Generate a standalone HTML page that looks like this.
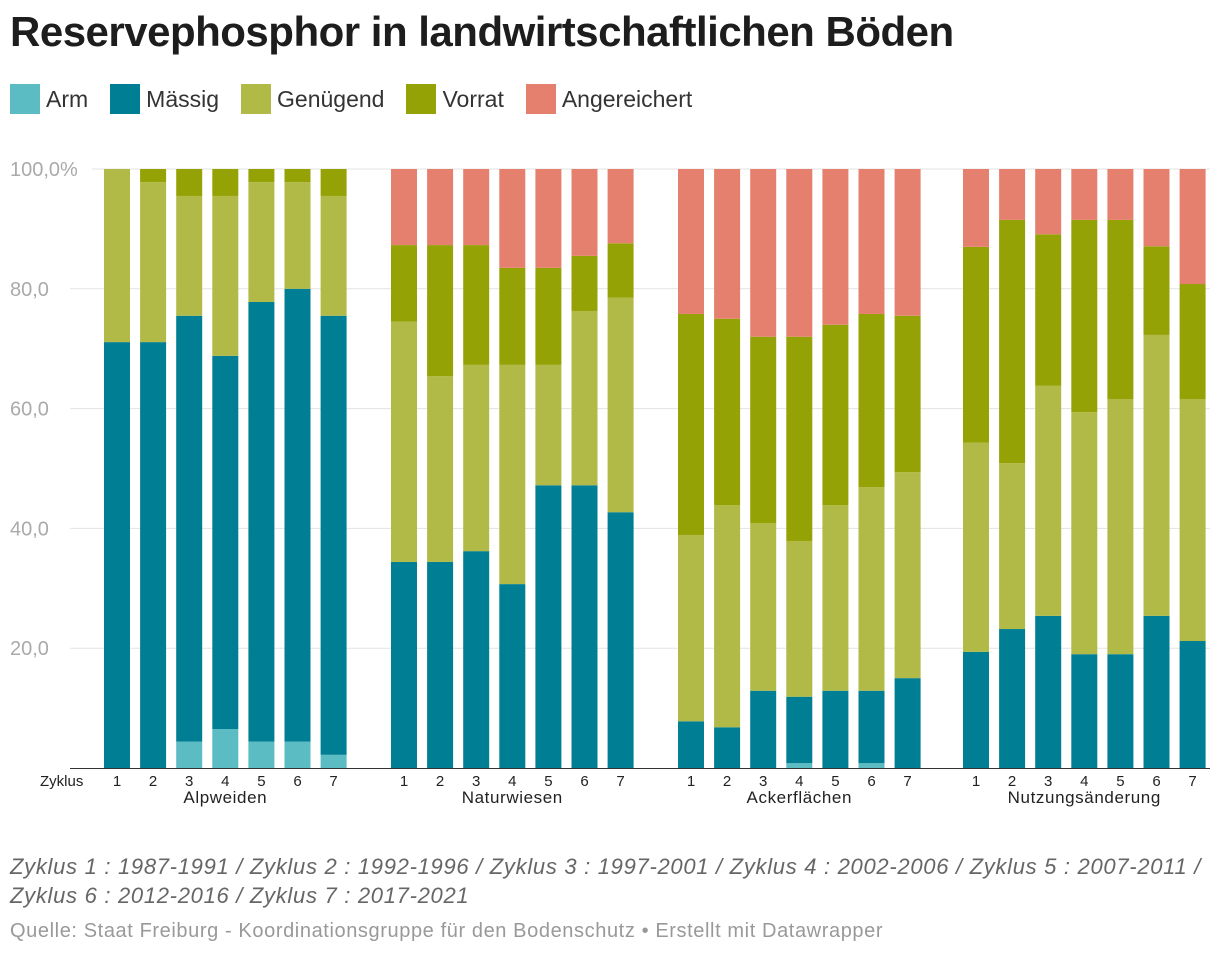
<!DOCTYPE html>
<html><head><meta charset="utf-8">
<style>
body{margin:0;width:1220px;height:956px;background:#fff;font-family:"Liberation Sans",Arial,sans-serif;position:relative;overflow:hidden}
h1{position:absolute;left:10px;top:8px;margin:0;font-size:42px;font-weight:bold;color:#1d1d1d;letter-spacing:-0.5px}
.legend{position:absolute;left:10px;top:84px;display:flex;font-size:23px;color:#333}
.li{display:flex;align-items:center;margin-right:22px}
.sw{width:30px;height:30px;margin-right:6px}
.note{position:absolute;left:10px;top:852px;font-size:22px;letter-spacing:0.7px;font-style:italic;color:#666;line-height:29px}
.src{position:absolute;left:10px;top:920px;font-size:20px;letter-spacing:0.6px;color:#999}
</style></head><body>
<h1>Reservephosphor in landwirtschaftlichen Böden</h1>
<div class="legend">
<div class="li"><div class="sw" style="background:#5bbcc3"></div>Arm</div>
<div class="li"><div class="sw" style="background:#007f94"></div>Mässig</div>
<div class="li"><div class="sw" style="background:#b1ba46"></div>Genügend</div>
<div class="li"><div class="sw" style="background:#95a206"></div>Vorrat</div>
<div class="li"><div class="sw" style="background:#e5806e"></div>Angereichert</div>
</div>
<svg id="chart" width="1220" height="820" style="position:absolute;left:0;top:0"></svg>
<div class="note">Zyklus 1 : 1987-1991 / Zyklus 2 : 1992-1996 / Zyklus 3 : 1997-2001 / Zyklus 4 : 2002-2006 / Zyklus 5 : 2007-2011 /<br>Zyklus 6 : 2012-2016 / Zyklus 7 : 2017-2021</div>
<div class="src">Quelle: Staat Freiburg - Koordinationsgruppe für den Bodenschutz • Erstellt mit Datawrapper</div>
<script>
const groups=["Alpweiden","Naturwiesen","Ackerflächen","Nutzungsänderung"];
const cycles=["1","2","3","4","5","6","7"];
const yTicks=[20,40,60,80,100];
const yTickLabels=["20,0","40,0","60,0","80,0","100,0%"];
const seriesNames=["Arm","Mässig","Genügend","Vorrat","Angereichert"];
const seriesColors=["#5bbcc3","#007f94","#b1ba46","#95a206","#e5806e"];
const arm=[0,0,4.4,6.5,4.4,4.4,2.2, 0,0,0,0,0,0,0, 0,0,0,0.8,0,0.8,0, 0,0,0,0,0,0,0];
const massig=[71.1,71.1,71.1,62.3,73.4,75.6,73.3, 34.4,34.4,36.2,30.7,47.2,47.2,42.7, 7.8,6.8,12.9,11.1,12.9,12.1,15.0, 19.4,23.2,25.4,19.0,19.0,25.4,21.2];
const genugend=[28.9,26.7,20.0,26.7,20.0,17.8,20.0, 40.1,31.0,31.1,36.6,20.1,29.1,35.8, 31.1,37.1,28.0,26.0,31.0,34.0,34.4, 34.9,27.7,38.4,40.4,42.6,46.9,40.4];
const vorrat=[0,2.2,4.5,4.5,2.2,2.2,4.5, 12.8,21.9,20.0,16.2,16.2,9.2,9.1, 36.9,31.1,31.1,34.1,30.1,28.9,26.1, 32.7,40.6,25.3,32.1,29.9,14.8,19.2];
const angereichert=[0,0,0,0,0,0,0, 12.7,12.7,12.7,16.5,16.5,14.5,12.4, 24.2,25.0,28.0,28.0,26.0,24.2,24.5, 13.0,8.5,10.9,8.5,8.5,12.9,19.2];
const series=[arm,massig,genugend,vorrat,angereichert];
const svg=document.getElementById('chart');const NS="http://www.w3.org/2000/svg";
const y=v=>768-v*5.99;
const groupX=[104,391,678,963],step=36.1,bw=26;
const x=(g,i)=>groupX[g]+i*step;
function mk(t,a,txt){const e=document.createElementNS(NS,t);for(const k in a)e.setAttribute(k,a[k]);if(txt!==undefined)e.textContent=txt;svg.appendChild(e);return e;}
yTicks.forEach((t,i)=>{
 const l=mk('line',{x1:i==4?92:70,x2:1210,y1:y(t),y2:y(t),stroke:'#e3e3e3','stroke-width':1});
 
 
 const tx=mk('text',{x:10,y:y(t)+7,'font-size':20,fill:'#aaa'},yTickLabels[i]);
 
 
});
groups.forEach((gn,g)=>{
 cycles.forEach((c,i)=>{
  const idx=g*7+i;let base=0;
  series.forEach((s,si)=>{
   const v=s[idx];if(v>0){
    const r=mk('rect',{x:x(g,i),y:y(base+v),width:bw,height:v*5.99,fill:seriesColors[si]});
    
    
   }
   base+=v;
  });
  const t=mk('text',{x:x(g,i)+bw/2,y:786,'font-size':15,fill:'#222','text-anchor':'middle'},c);
  
  
 });
 const gl=mk('text',{x:x(g,3)+bw/2,y:803,'font-size':17,'letter-spacing':0.6,fill:'#222','text-anchor':'middle'},gn);
 
 
});
const ax=mk('line',{x1:70,x2:1210,y1:768.5,y2:768.5,stroke:'#333','stroke-width':1});


const zy=mk('text',{x:40,y:786,'font-size':15,fill:'#222'},'Zyklus');


</script>
</body></html>
